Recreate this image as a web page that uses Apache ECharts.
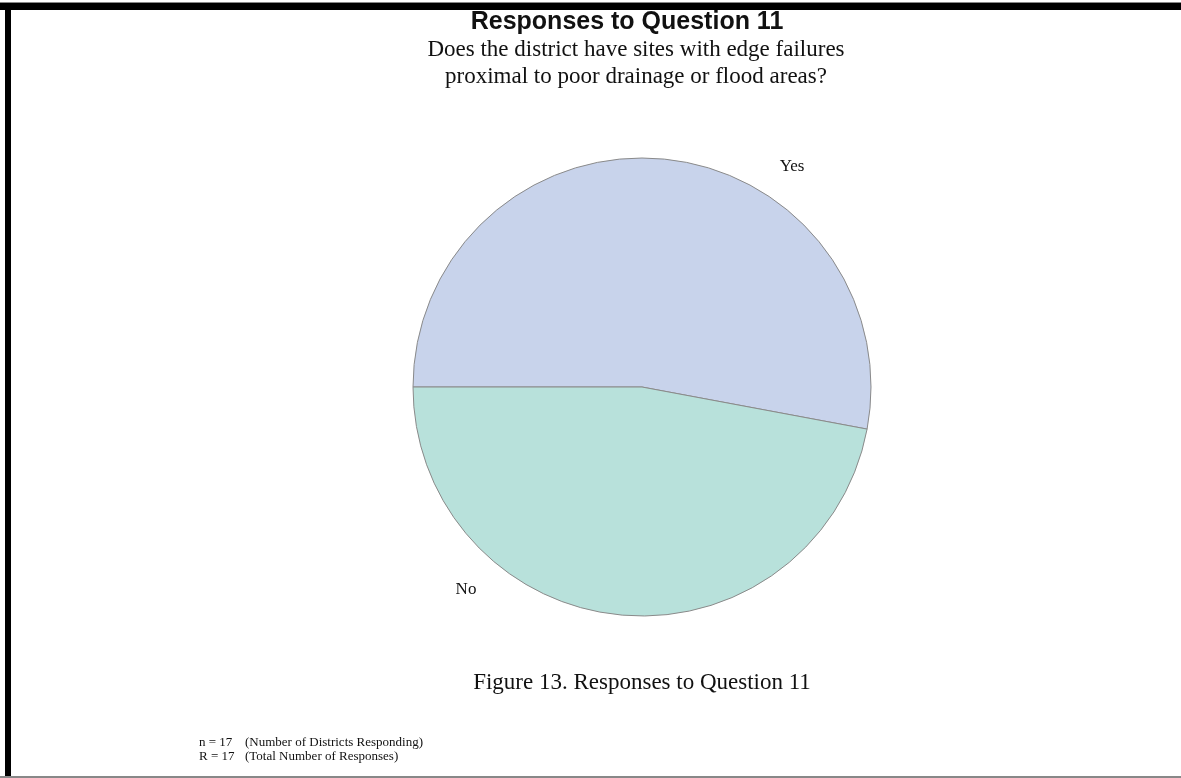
<!DOCTYPE html>
<html>
<head>
<meta charset="utf-8">
<script src="https://cdn.jsdelivr.net/npm/echarts@6/dist/echarts.min.js"></script>
<style>
html, body { margin: 0; padding: 0; background: #fff; }
#chart { width: 1181px; height: 778px; }
</style>
</head>
<body>
<div id="chart"></div>
<script>
// answers and counts (17 responses)
const answers = ['Yes', 'No'];
const counts = [9, 8];
const sliceColors = ['#c8d3eb', '#b8e1db'];
const noteKeys = ['n = 17', 'R = 17'];
const noteTexts = ['(Number of Districts Responding)', '(Total Number of Responses)'];

const chart = echarts.init(document.getElementById('chart'));

const serif = 'Liberation Serif';
const notes = [];
noteKeys.forEach((k, i) => {
    notes.push({ type: 'text', left: 199, top: 736 + i * 14,
        style: { text: k, font: '13px "' + serif + '"', fill: '#111' } });
    notes.push({ type: 'text', left: 245, top: 736 + i * 14,
        style: { text: noteTexts[i], font: '13px "' + serif + '"', fill: '#111' } });
});

const option = {
    backgroundColor: '#ffffff',
    animation: false,
    title: [
        {
            text: 'Responses to Question 11',
            left: 622, top: 5, textAlign: 'center',
            textStyle: { fontFamily: 'Liberation Sans', fontWeight: 'bold', fontSize: 25, color: '#111' }
        },
        {
            text: 'Does the district have sites with edge failures\nproximal to poor drainage or flood areas?',
            left: 631, top: 31, textAlign: 'center',
            textStyle: { fontFamily: serif, fontWeight: 'normal', fontSize: 23, lineHeight: 27, color: '#111' }
        },
        {
            text: 'Figure 13. Responses to Question 11',
            left: 637, top: 666, textAlign: 'center',
            textStyle: { fontFamily: serif, fontWeight: 'normal', fontSize: 23, color: '#111' }
        }
    ],
    graphic: [
        // page frame
        { type: 'rect', shape: { x: 0, y: 3, width: 1181, height: 7 }, style: { fill: '#000' } },
        { type: 'rect', shape: { x: 0, y: 2, width: 1181, height: 1 }, style: { fill: '#888' } },
        { type: 'rect', shape: { x: 5, y: 3, width: 6, height: 775 }, style: { fill: '#000' } },
        { type: 'rect', shape: { x: 0, y: 776, width: 1181, height: 2 }, style: { fill: '#888' } }
    ].concat(notes),
    series: [
        {
            type: 'pie',
            center: [642, 387],
            radius: 229,
            startAngle: 180,
            clockwise: true,
            silent: true,
            itemStyle: { borderColor: '#8a8a8a', borderWidth: 1 },
            label: {
                show: true,
                position: 'outside',
                formatter: '{b}',
                fontFamily: serif,
                fontSize: 17,
                color: '#111'
            },
            labelLine: { show: false },
            labelLayout: function (params) {
                const spots = [[792, 167], [466, 590]];
                const p = spots[params.dataIndex];
                return { x: p[0], y: p[1], align: 'center', verticalAlign: 'middle' };
            },
            data: answers.map((a, i) => ({
                name: a,
                value: counts[i],
                itemStyle: { color: sliceColors[i] }
            }))
        }
    ]
};

chart.setOption(option);
</script>
</body>
</html>
